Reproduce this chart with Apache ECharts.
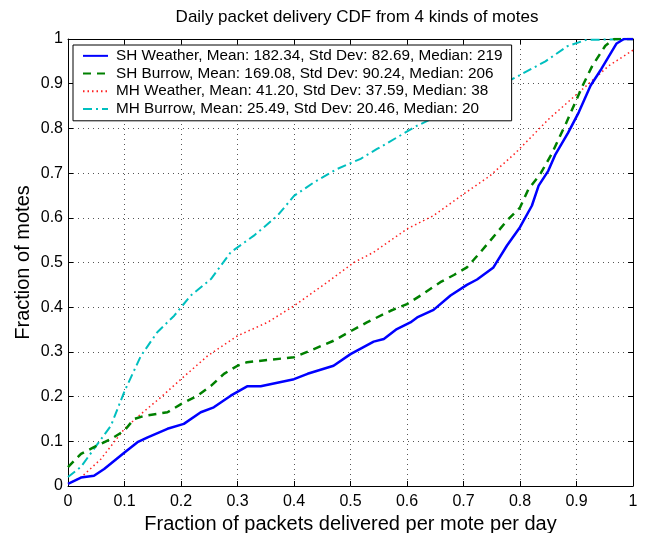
<!DOCTYPE html>
<html>
<head>
<meta charset="utf-8">
<script src="https://cdn.jsdelivr.net/npm/echarts@6/dist/echarts.min.js"></script>
<style>html,body{margin:0;padding:0;background:#fff}#c{width:651px;height:533px}</style>
</head>
<body>
<div id="c"></div>
<script>
const seriesNames = [
  'SH Weather, Mean: 182.34, Std Dev: 82.69, Median: 219',
  'SH Burrow, Mean: 169.08, Std Dev: 90.24, Median: 206',
  'MH Weather, Mean: 41.20, Std Dev: 37.59, Median: 38',
  'MH Burrow, Mean: 25.49, Std Dev: 20.46, Median: 20'
];
const shWeatherX = [0, 0.023, 0.046, 0.064, 0.1, 0.123, 0.141, 0.176, 0.205, 0.235, 0.258, 0.288, 0.317, 0.341, 0.4, 0.424, 0.47, 0.5, 0.541, 0.559, 0.582, 0.606, 0.618, 0.647, 0.677, 0.706, 0.724, 0.753, 0.777, 0.8, 0.821, 0.833, 0.85, 0.862, 0.885, 0.904, 0.925, 0.944, 0.971, 0.984, 1];
const shWeatherY = [0.005, 0.019, 0.023, 0.038, 0.075, 0.098, 0.109, 0.128, 0.139, 0.165, 0.176, 0.202, 0.223, 0.223, 0.239, 0.251, 0.269, 0.295, 0.323, 0.329, 0.351, 0.366, 0.377, 0.394, 0.426, 0.45, 0.462, 0.489, 0.538, 0.579, 0.627, 0.672, 0.705, 0.74, 0.79, 0.836, 0.896, 0.933, 0.99, 1.0, 1.0];
const shBurrowX = [0, 0.023, 0.046, 0.076, 0.1, 0.117, 0.135, 0.176, 0.2, 0.229, 0.253, 0.276, 0.3, 0.317, 0.4, 0.429, 0.47, 0.5, 0.529, 0.571, 0.6, 0.624, 0.659, 0.683, 0.706, 0.73, 0.76, 0.777, 0.8, 0.815, 0.836, 0.856, 0.881, 0.911, 0.928, 0.951, 0.967, 1];
const shBurrowY = [0.042, 0.072, 0.087, 0.105, 0.124, 0.15, 0.157, 0.165, 0.183, 0.202, 0.224, 0.251, 0.269, 0.277, 0.288, 0.303, 0.325, 0.346, 0.366, 0.392, 0.407, 0.426, 0.456, 0.472, 0.489, 0.523, 0.568, 0.594, 0.623, 0.664, 0.698, 0.743, 0.81, 0.896, 0.94, 0.985, 1.0, 1.0];
const mhWeatherX = [0, 0.023, 0.058, 0.1, 0.129, 0.164, 0.2, 0.247, 0.3, 0.353, 0.4, 0.459, 0.506, 0.541, 0.6, 0.647, 0.7, 0.747, 0.792, 0.851, 0.918, 0.957, 1];
const mhWeatherY = [0.005, 0.019, 0.06, 0.128, 0.161, 0.198, 0.239, 0.291, 0.336, 0.366, 0.403, 0.456, 0.5, 0.523, 0.575, 0.605, 0.653, 0.694, 0.745, 0.821, 0.896, 0.94, 0.975];
const mhBurrowX = [0, 0.023, 0.046, 0.076, 0.1, 0.129, 0.158, 0.188, 0.217, 0.253, 0.288, 0.329, 0.371, 0.4, 0.435, 0.476, 0.518, 0.547, 0.618, 0.718, 0.786, 0.845, 0.884, 0.917, 1];
const mhBurrowY = [0.02, 0.043, 0.083, 0.135, 0.212, 0.291, 0.344, 0.381, 0.426, 0.463, 0.523, 0.56, 0.605, 0.649, 0.679, 0.709, 0.732, 0.754, 0.806, 0.866, 0.91, 0.95, 0.984, 0.998, 1.0];

function pairs(xs, ys) { return xs.map((x, i) => [x, ys[i]]); }
const FONT = 'Liberation Sans';
function fmt(v) { const r = Math.round(v * 10) / 10; return r === 0 ? '0' : r === 1 ? '1' : r.toFixed(1); }

const chart = echarts.init(document.getElementById('c'), null, {renderer: 'canvas'});
const axisCommon = {
  type: 'value', min: 0, max: 1, interval: 0.1,
  axisLine: {show: true, onZero: false, lineStyle: {color: '#000', width: 1}},
  axisTick: {show: true, inside: true, length: 5, lineStyle: {color: '#000'}},
};
const gridLine = {show: true, lineStyle: {color: '#555', type: [1, 4], width: 1}};
chart.setOption({
  animation: false,
  backgroundColor: '#fff',
  title: {
    text: 'Daily packet delivery CDF from 4 kinds of motes',
    left: 352, top: 4, textAlign: 'center',
    textStyle: {fontFamily: FONT, fontSize: 17, fontWeight: 'normal', color: '#000'}
  },
  grid: {left: 68, right: 18, top: 39, bottom: 47, outerBoundsMode: 'none', containLabel: false},
  legend: {
    orient: 'vertical', left: 73, top: 45,
    backgroundColor: '#fff', borderColor: '#000', borderWidth: 1,
    padding: [2, 9, 3, 9], itemGap: 0, itemWidth: 25, itemHeight: 14,
    itemStyle: {opacity: 0},
    textStyle: {fontFamily: FONT, fontSize: 15.3, lineHeight: 17.7, color: '#000', padding: [0, 0, 0, 3]},
    data: seriesNames
  },
  xAxis: [
    Object.assign({}, axisCommon, {
      position: 'bottom',
      name: 'Fraction of packets delivered per mote per day',
      nameLocation: 'middle', nameGap: 24,
      nameTextStyle: {fontFamily: FONT, fontSize: 20, color: '#000'},
      axisLabel: {fontFamily: FONT, fontSize: 16, color: '#000', margin: 8, formatter: fmt},
      splitLine: gridLine
    }),
    Object.assign({}, axisCommon, {position: 'top', axisLabel: {show: false}, splitLine: {show: false}})
  ],
  yAxis: [
    Object.assign({}, axisCommon, {
      position: 'left',
      name: 'Fraction of motes',
      nameLocation: 'middle', nameGap: 35, nameMoveOverlap: false,
      nameTextStyle: {fontFamily: FONT, fontSize: 20, color: '#000'},
      axisLabel: {fontFamily: FONT, fontSize: 16, color: '#000', margin: 5, formatter: fmt},
      splitLine: gridLine
    }),
    Object.assign({}, axisCommon, {position: 'right', axisLabel: {show: false}, splitLine: {show: false}})
  ],
  series: [
    {name: seriesNames[0], type: 'line', symbol: 'none', data: pairs(shWeatherX, shWeatherY),
     color: '#0000ff', lineStyle: {color: '#0000ff', width: 2.5, type: 'solid'}, z: 5},
    {name: seriesNames[1], type: 'line', symbol: 'none', data: pairs(shBurrowX, shBurrowY),
     color: '#008000', lineStyle: {color: '#008000', width: 2.5, type: [8, 6]}, z: 4},
    {name: seriesNames[2], type: 'line', symbol: 'none', data: pairs(mhWeatherX, mhWeatherY),
     color: '#ff2020', lineStyle: {color: '#ff2020', width: 1.5, type: [1.5, 3]}, z: 3},
    {name: seriesNames[3], type: 'line', symbol: 'none', data: pairs(mhBurrowX, mhBurrowY),
     color: '#00bfbf', lineStyle: {color: '#00bfbf', width: 2, type: [9, 4, 2, 4]}, z: 2}
  ]
});
</script>
</body>
</html>
